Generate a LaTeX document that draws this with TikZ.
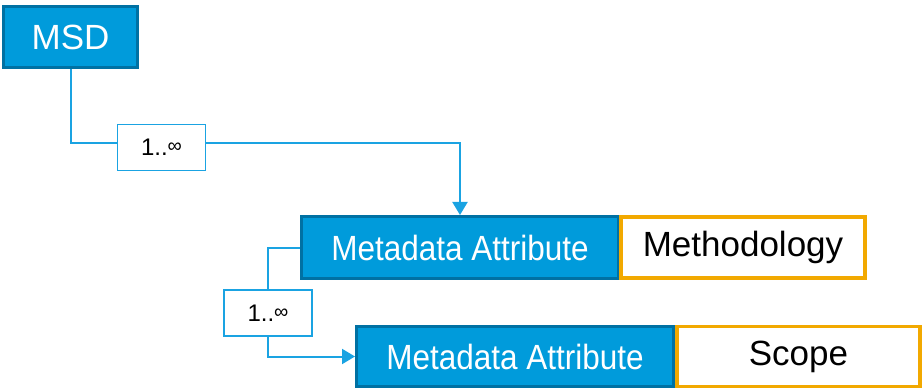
\documentclass[tikz,border=0pt]{standalone}
\usepackage{fontspec}
\setmainfont{Liberation Sans}
\usetikzlibrary{arrows.meta}
\definecolor{bfill}{HTML}{009BDB}
\definecolor{bdraw}{HTML}{0071A3}
\definecolor{ora}{HTML}{F2A900}
\definecolor{lin}{HTML}{1AA3E2}
\tikzset{
  bluebox/.style={draw=bdraw, fill=bfill, line width=3pt, text=white, inner sep=0pt,
    font=\fontsize{35}{35}\selectfont},
  orabox/.style={draw=ora, fill=white, line width=3.5pt, text=black, inner sep=0pt,
    font=\fontsize{35}{35}\selectfont},
  mult/.style={draw=lin, fill=white, line width=1.6pt, text=black, inner sep=0pt,
    minimum width=88pt, minimum height=46pt, font=\fontsize{24}{24}\selectfont},
  conn/.style={draw=lin, line width=2pt},
  arr/.style={conn, -{Triangle[width=15pt,length=13pt]}}
}
\begin{document}
\begin{tikzpicture}[x=1pt,y=-1pt]
\useasboundingbox (0,0) rectangle (923,390);
\node[bluebox, minimum width=134pt, minimum height=61pt] (MSD) at (70.5,37) {MSD};
\node[mult] (m1) at (161.5,147.5) {1..\raisebox{3pt}{\fontsize{20}{20}\selectfont ∞}};
\node[bluebox, minimum width=317pt, minimum height=62pt] (MA1) at (460,247.5) {\scalebox{0.9}[1]{Metadata Attribute}};
\node[orabox, minimum width=244pt, minimum height=61pt] (Meth) at (743,247.5) {Methodology};
\node[mult] (m2) at (268,313) {1..\raisebox{3pt}{\fontsize{20}{20}\selectfont ∞}};
\node[bluebox, minimum width=317pt, minimum height=60pt] (MA2) at (515,356.5) {\scalebox{0.9}[1]{Metadata Attribute}};
\node[orabox, minimum width=243pt, minimum height=60pt] (Scope) at (798.5,356.5) {Scope};
\draw[conn] (MSD.south) |- ([yshift=4pt]m1.west);
\draw[arr] ([yshift=4pt]m1.east) -| (MA1.north);
\draw[conn] (MA1.west) -| (m2.north);
\draw[arr] (m2.south) |- (MA2.west);
\end{tikzpicture}
\end{document}
